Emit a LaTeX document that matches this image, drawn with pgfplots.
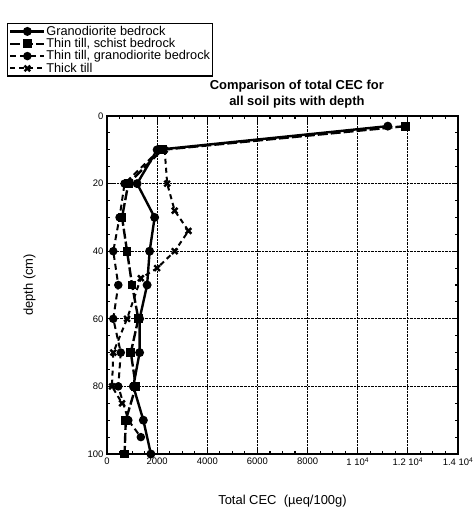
\documentclass[border=0pt]{standalone}
\usepackage{pgfplots}
\pgfplotsset{compat=1.18}
\usepackage{pgfplotstable}
\usepackage{fontspec}
\setmainfont{Liberation Sans}

\pgfplotstableread{
cec depth
11200 3
2000 10
1200 20
1900 30
1700 40
1600 50
1300 60
1300 70
1050 80
1450 90
1750 100
}\granobed
\pgfplotstableread{
cec depth
11900 3
2200 10
850 20
600 30
800 40
1000 50
1250 60
950 70
1150 80
750 90
700 100
}\thinschist
\pgfplotstableread{
cec depth
2100 10
700 20
500 30
250 40
450 50
250 60
550 70
450 80
850 90
1350 95
}\thingrano
\pgfplotstableread{
cec depth
2300 10
2400 20
2700 28
3250 34
2700 40
2000 45
1350 48
800 60
250 70
200 80
600 85
}\thicktill

\begin{document}
\begin{tikzpicture}
\path[use as bounding box] (-107bp,-55bp) rectangle (369bp,454bp);
\begin{axis}[
  at={(0bp,0bp)}, anchor=south west,
  scale only axis, width=351bp, height=338bp,
  xmin=0, xmax=14000, ymin=0, ymax=100, y dir=reverse,
  scaled x ticks=false, scaled y ticks=false,
  xtick={0,2000,4000,6000,8000,10000,12000,14000},
  xticklabels={0,2000,4000,6000,8000,{1 10\textsuperscript{4}},{1.2 10\textsuperscript{4}},{1.4 10\textsuperscript{4}}},
  ytick={0,20,40,60,80,100},
  minor x tick num=3, minor y tick num=3,
  tick align=inside,
  major tick length=6bp, minor tick length=3bp,
  grid=major,
  major grid style={black, densely dotted, line width=1.2bp},
  axis line style={line width=1.8bp},
  every tick/.style={black, line width=1.1bp},
  tick label style={font=\fontsize{9.5}{11}\selectfont},
  /pgf/number format/assume math mode=true,
  xlabel={Total CEC\ \ (µeq/100g)},
  xlabel style={at={(axis description cs:0.5,-0.148)}, anchor=base, font=\fontsize{13}{15}\selectfont},
  ylabel={depth (cm)},
  ylabel style={at={(axis description cs:-0.211,0.5)}, anchor=base, rotate=0, font=\fontsize{13}{15}\selectfont},
  legend style={at={(axis description cs:-0.285,1.275)}, anchor=north west,
    draw=black, line width=1.4bp, font=\fontsize{12.8}{13}\selectfont,
    inner sep=1.5bp, row sep=0bp, nodes={inner sep=0.8bp}},
  legend cell align=left,
  legend image code/.code={\draw[mark repeat=2,mark phase=2,#1] plot coordinates {(0bp,0bp) (17bp,0bp) (34bp,0bp)};},
  clip=false,
]
\addplot[black, line width=2.4bp, mark=*, mark size=3.2bp, mark options={solid}] table[x=cec,y=depth] {\granobed};
\addlegendentry{Granodiorite bedrock}
\addplot[black, line width=2.4bp, dash pattern=on 10bp off 3bp, mark=square*, mark size=3.2bp, mark options={solid}] table[x=cec,y=depth] {\thinschist};
\addlegendentry{Thin till, schist bedrock}
\addplot[black, line width=2bp, dash pattern=on 6bp off 4bp, mark=*, mark size=3.2bp, mark options={solid}] table[x=cec,y=depth] {\thingrano};
\addlegendentry{Thin till, granodiorite bedrock}
\addplot[black, line width=2bp, dash pattern=on 5bp off 4bp, mark=x, mark size=4bp, mark options={solid, line width=2.4bp}] table[x=cec,y=depth] {\thicktill};
\addlegendentry{Thick till}
\node[anchor=base, font=\bfseries\fontsize{13}{15}\selectfont] at (axis description cs:0.541,1.077) {Comparison of total CEC for};
\node[anchor=base, font=\bfseries\fontsize{13}{15}\selectfont] at (axis description cs:0.541,1.0325) {all soil pits with depth};
\end{axis}
\end{tikzpicture}
\end{document}
